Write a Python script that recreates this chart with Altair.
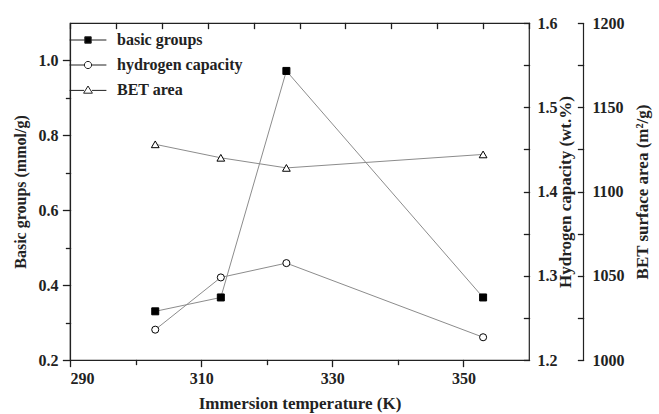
import altair as alt
import pandas as pd

# ---- data ----
temps = [303, 313, 323, 353]
basic = [0.33, 0.367, 0.972, 0.367]
hydrogen = [1.236, 1.298, 1.315, 1.227]
bet = [1128, 1120, 1114, 1122]
series = ["basic groups", "hydrogen capacity", "BET area"]

x_ticks = [290, 300, 310, 320, 330, 340, 350]
top_ticks = [290, 297, 304, 311, 318, 325, 332, 339, 346, 353, 360]
basic_ticks = [0.2, 0.3, 0.4, 0.5, 0.6, 0.7, 0.8, 0.9, 1.0]
h_ticks = [1.2, 1.25, 1.3, 1.35, 1.4, 1.45, 1.5, 1.55, 1.6]
bet_ticks = [1000, 1025, 1050, 1075, 1100, 1125, 1150, 1175, 1200]
bet_labels = [1000, 1050, 1100, 1150, 1200]

df = pd.DataFrame({"T": temps, "basic": basic, "H": hydrogen, "BET": bet})
legend_df = pd.DataFrame({"series": series})

FONT = "Liberation Serif"
INK = "#222222"
LINE = "#8c8c8c"
TW = 1.3
TC = alt.ExprRef("'#1e1e1e'")

xscale = alt.Scale(domain=[290, 360], nice=False, zero=False)

basic_layer = alt.Chart(df).mark_line(
    color=LINE, strokeWidth=1,
    point=alt.OverlayMarkDef(shape="square", filled=True, fill="black",
                             stroke="black", strokeWidth=1, size=49, opacity=1),
).encode(
    x=alt.X("T:Q", scale=xscale, axis=alt.Axis(
        values=x_ticks, tickColor=TC, tickWidth=TW, tickOpacity=1, tickCap="square",
        tickSize={"condition": {"test": "datum.value % 20 == 10", "value": 6}, "value": 4},
        labelExpr="datum.value % 20 == 10 ? datum.label : ''",
        labelPadding=4, title="Immersion temperature (K)", titleFontSize=17,
        titlePadding=9)),
    y=alt.Y("basic:Q", scale=alt.Scale(domain=[0.2, 1.1], nice=False, zero=False),
            axis=alt.Axis(
                values=basic_ticks, format=".1f", tickColor=TC, tickWidth=TW,
                tickOpacity=1, tickCap="square",
                tickSize={"condition": {"test": "round(datum.value*10) % 2 == 0", "value": 7}, "value": 4},
                labelExpr="round(datum.value*10) % 2 == 0 ? datum.label : ''",
                labelPadding=5, title="Basic groups (mmol/g)", titlePadding=10)),
)

h_layer = alt.Chart(df).mark_line(
    color=LINE, strokeWidth=1,
    point=alt.OverlayMarkDef(shape="circle", filled=True, fill="white",
                             stroke="black", strokeWidth=1, size=50, opacity=1),
).encode(
    x=alt.X("T:Q", scale=xscale, axis=alt.Axis(
        orient="top", offset=-5, values=top_ticks, domain=False, labels=False,
        tickSize=5, tickWidth=TW, tickColor=TC, tickOpacity=1, tickCap="square",
        title=None)),
    y=alt.Y("H:Q", scale=alt.Scale(domain=[1.2, 1.6], nice=False, zero=False),
            axis=alt.Axis(
                orient="right", offset=-5, domain=False, tickSize=5, tickWidth=TW,
                tickColor=TC, tickOpacity=1, tickCap="square", values=h_ticks,
                format=".1f",
                labelExpr="abs(datum.value*10 - round(datum.value*10)) < 0.01 ? datum.label : ''",
                labelPadding=8, title="Hydrogen capacity (wt.%)", titleAngle=270,
                titleBaseline="top", titlePadding=0, titleFontSize=17)),
)

bet_scale = alt.Scale(domain=[1000, 1200], nice=False, zero=False)
bet_main = alt.Chart(df).mark_line(
    color=LINE, strokeWidth=1,
    point=alt.OverlayMarkDef(shape="triangle-up", filled=True, fill="white",
                             stroke="black", strokeWidth=1, size=60, opacity=1),
).encode(
    x=alt.X("T:Q", scale=xscale, axis=None),
    y=alt.Y("BET:Q", scale=bet_scale, axis=alt.Axis(
        orient="right", offset=54, ticks=False, domain=True,
        values=bet_labels, format="d", labelPadding=9,
        title="BET surface area (m²/g)", titleAngle=270,
        titleBaseline="top", titlePadding=10, titleFontSize=17)),
)
bet_tickmarks = alt.Chart(df).mark_point(opacity=0).encode(
    x=alt.X("T:Q", scale=xscale, axis=None),
    y=alt.Y("BET:Q", scale=bet_scale, axis=alt.Axis(
        orient="right", offset=49, domain=False, labels=False, tickSize=5,
        tickWidth=TW, tickColor=TC, tickOpacity=1, tickCap="square",
        values=bet_ticks, title=None)),
)
bet_layer = alt.layer(bet_main, bet_tickmarks).resolve_axis(y="independent")

sq = "M-4.6,0H-0.8M0.8,0H4.6M-0.8,-0.8H0.8V0.8H-0.8Z"
ci = "M-4.6,0H-0.9M0.9,0H4.6M-0.9,0A0.9,0.9 0 1 0 0.9,0A0.9,0.9 0 1 0 -0.9,0Z"
tr = "M-4.6,0.1H-1.0M1.0,0.1H4.6M0,-1.0L1.1,0.8H-1.1Z"

leg = alt.Legend(orient="none", legendX=10, legendY=9, title=None)
legend_layer = alt.Chart(legend_df).transform_filter("false").mark_point(
    filled=True, opacity=1, strokeWidth=1
).encode(
    shape=alt.Shape("series:N", scale=alt.Scale(domain=series, range=[sq, ci, tr]), legend=leg),
    fill=alt.Fill("series:N", scale=alt.Scale(domain=series, range=["black", "white", "white"]), legend=leg),
    stroke=alt.Stroke("series:N", scale=alt.Scale(domain=series, range=[INK, INK, INK]), legend=leg),
)

chart = alt.layer(basic_layer, h_layer, bet_layer, legend_layer).resolve_scale(
    y="independent"
).resolve_axis(x="independent").properties(
    width=459, height=337,
    padding={"left": 70, "top": 23, "right": 130, "bottom": 54},
    autosize=alt.AutoSizeParams(type="none"),
).configure_view(stroke=INK, strokeWidth=1.2).configure_axis(
    labelFont=FONT, titleFont=FONT, labelFontWeight="bold", titleFontWeight="bold",
    labelFontSize=16, titleFontSize=16, domainColor=INK,
    labelColor=INK, titleColor=INK, grid=False, domainWidth=1.2,
).configure_legend(
    symbolSize=64, symbolStrokeColor=INK, symbolStrokeWidth=1,
    labelFont=FONT, labelFontSize=16, labelFontWeight="bold", labelColor=INK,
    labelOffset=21, rowPadding=9, padding=0,
)

chart.save("out.html", embed_options={"renderer": "svg", "actions": False})
